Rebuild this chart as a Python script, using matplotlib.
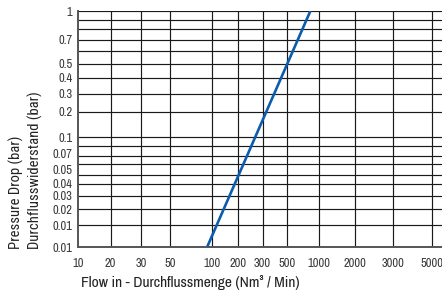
import numpy as np
import matplotlib
matplotlib.use('Agg')
import matplotlib.pyplot as plt
from matplotlib.ticker import FixedLocator, NullFormatter

plt.rcParams['font.family'] = ['Archivo Narrow', 'DejaVu Sans']

# Data
flow = [92, 830]          # Nm3 / Min
pressure = [0.01, 1.0]    # bar

x_ticks = [10, 20, 30, 50, 100, 200, 300, 500, 1000, 2000, 3000, 5000]
x_tick_labels = ['10', '20', '30', '50', '100', '200', '300', '500',
                 '1000', '2000', '3000', '5000']
y_ticks = [1, 0.7, 0.5, 0.4, 0.3, 0.2, 0.1, 0.07, 0.05, 0.04, 0.03, 0.02, 0.015, 0.01]
y_tick_labels = ['1', '0.7', '0.5', '0.4', '0.3', '0.2', '0.1', '0.07',
                 '0.05', '0.04', '0.03', '0.02', '0.01', '0.01']
y_grid = [1, 0.9, 0.8, 0.7, 0.6, 0.5, 0.4, 0.3, 0.2, 0.1, 0.083, 0.067,
          0.056, 0.046, 0.04, 0.03, 0.02, 0.015, 0.01]

# The printed chart uses an uneven log-like scale; knots give the spacing
x_knot_pos = [0, 33, 64, 93, 136, 162, 187, 212, 244, 281, 319, 359, 396]
x_knot_val = x_ticks + [10000]
y_knot_pos = [0, -29, -53, -67, -83, -101, -126, -143, -158, -173, -185, -198, -214, -236]
y_knot_val = y_ticks


def make_scale(vals, pos):
    lv = np.log10(vals)
    p = np.array(pos, dtype=float)
    order = np.argsort(lv)
    lv, p = lv[order], p[order]
    fwd = lambda v: np.interp(np.log10(np.clip(v, 1e-9, None)), lv, p)
    if p[0] > p[-1]:
        inv = lambda q: 10 ** np.interp(q, p[::-1], lv[::-1])
    else:
        inv = lambda q: 10 ** np.interp(q, p, lv)
    return fwd, inv


fig = plt.figure(figsize=(4.42, 2.95), dpi=100)
ax = fig.add_axes([78 / 442, 1 - 247 / 295, 1 - 78 / 442, 236 / 295])

ax.set_xscale('function', functions=make_scale(x_knot_val, x_knot_pos))
ax.set_yscale('function', functions=make_scale(y_knot_val, y_knot_pos))
ax.set_xlim(10, 6000)
ax.set_ylim(0.01, 1)

ax.plot(flow, pressure, color='#0b5cad', lw=1.9, solid_capstyle='butt', zorder=3)

grid_color = '#1a1a1a'
for v in x_ticks[1:]:
    ax.axvline(v, color=grid_color, lw=0.85, zorder=1)
for v in y_grid[:-1]:
    ax.axhline(v, color=grid_color, lw=0.85, zorder=1)

ax.xaxis.set_major_locator(FixedLocator(x_ticks))
ax.set_xticklabels(x_tick_labels)
ax.yaxis.set_major_locator(FixedLocator(y_ticks))
ax.set_yticklabels(y_tick_labels)
ax.xaxis.set_minor_formatter(NullFormatter())
ax.yaxis.set_minor_formatter(NullFormatter())
ax.tick_params(axis='both', which='both', length=0, labelsize=9, colors='#3a3a3a')
ax.tick_params(axis='x', pad=8)
ax.tick_params(axis='y', pad=4)

for s in ['top', 'right']:
    ax.spines[s].set_visible(False)
for s in ['left', 'bottom']:
    ax.spines[s].set_color('#555555')
    ax.spines[s].set_linewidth(1.4)

ylab_font = ['Roboto Condensed', 'DejaVu Sans']
fig.text(16 / 442, 1 - 249 / 295, 'Pressure Drop (bar)', rotation=90,
         ha='center', va='bottom', fontsize=10.5, color='#222222', family=ylab_font)
fig.text(35 / 442, 1 - 249 / 295, 'Durchflusswiderstand (bar)', rotation=90,
         ha='center', va='bottom', fontsize=10.5, color='#222222', family=ylab_font)
fig.text(81 / 442, 1 - 283 / 295, 'Flow in - Durchflussmenge (Nm³ / Min)',
         ha='left', va='center', fontsize=11.2, color='#222222')

fig.savefig('out.png', dpi=100)
